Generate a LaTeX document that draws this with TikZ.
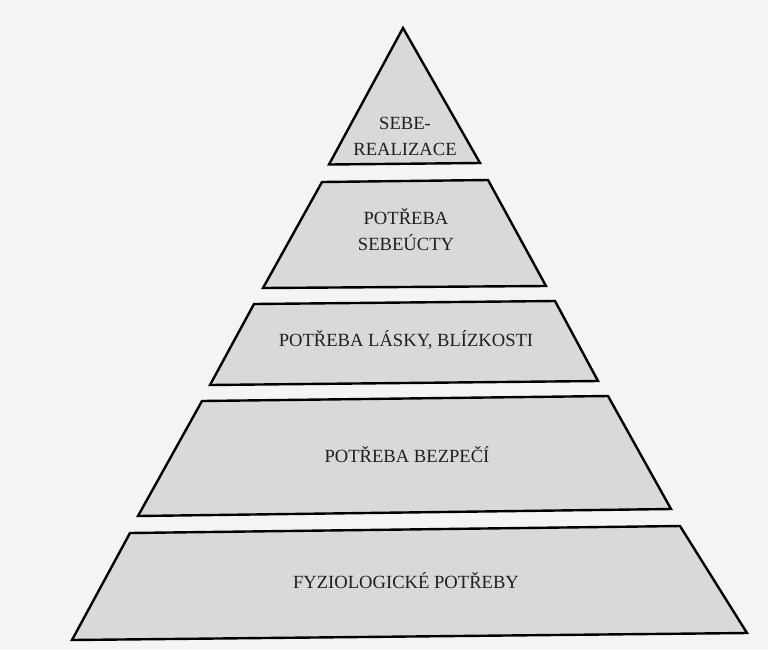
\documentclass[tikz,border=0pt]{standalone}
\usepackage{fontspec}
\setmainfont{Liberation Serif}
\begin{document}
\begin{tikzpicture}[x=1pt,y=-1pt,
  level/.style={draw=black,fill=pyrfill,line width=2.4pt,line join=miter},
  lbl/.style={font=\fontsize{18.6}{26}\selectfont,text=black!88,align=center,inner sep=0pt}]
\definecolor{pyrfill}{HTML}{D9D9D9}
\definecolor{pagebg}{HTML}{F4F4F4}
\useasboundingbox (0,0) rectangle (768,649);
\fill[pagebg] (0,0) rectangle (768,649);
% levels (top to bottom)
\draw[level] (403,28) -- (480,163) -- (329,164.5) -- cycle;
\draw[level] (322,182) -- (488,180) -- (546,286) -- (263,288) -- cycle;
\draw[level] (254,304) -- (555,301) -- (598,381) -- (210,385) -- cycle;
\draw[level] (202,401) -- (608,396) -- (671,509) -- (138,516) -- cycle;
\draw[level] (130,533) -- (680,526) -- (747,633) -- (72,640) -- cycle;
% labels
\node[lbl] (l1) at (405,136) {SEBE-\\REALIZACE};
\node[lbl] (l2) at (406,230) {POTŘEBA\\SEBEÚCTY};
\node[lbl] (l3) at (406,340) {POTŘEBA LÁSKY, BLÍZKOSTI};
\node[lbl] (l4) at (407,455) {POTŘEBA BEZPEČÍ};
\node[lbl] (l5) at (406,581) {FYZIOLOGICKÉ POTŘEBY};
\end{tikzpicture}
\end{document}
